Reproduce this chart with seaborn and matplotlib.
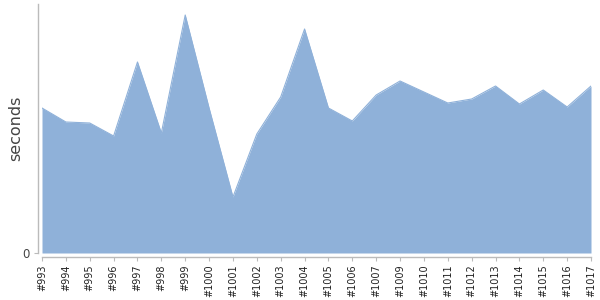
import matplotlib
matplotlib.use("Agg")
import matplotlib.pyplot as plt
import seaborn as sns
import pandas as pd

builds = ["#993", "#994", "#995", "#996", "#997", "#998", "#999", "#1000",
          "#1001", "#1002", "#1003", "#1004", "#1005", "#1006", "#1007",
          "#1009", "#1010", "#1011", "#1012", "#1013", "#1014", "#1015",
          "#1016", "#1017"]
seconds = [145, 131, 130, 117, 191, 120, 238, 145,
           56, 119, 156, 224, 145, 132, 158,
           172, 161, 150, 154, 167, 149, 163,
           146, 167]
y_max = 249

df = pd.DataFrame({"build": builds, "seconds": seconds})

sns.set_style("white")
plt.rcParams["font.family"] = ["DejaVu Sans"]

fig = plt.figure(figsize=(6, 3), dpi=100)
ax = fig.add_axes([42 / 600, 47 / 300, (591 - 42) / 600, (253 - 4) / 300])

fill_color = "#8fb1d9"
ax.fill_between(df["build"], df["seconds"], 0, color=fill_color, linewidth=0)
sns.lineplot(data=df, x="build", y="seconds", ax=ax, color=fill_color,
             linewidth=0.8, sort=False)

ax.set_xlim(0, len(builds) - 1)
ax.set_ylim(0, y_max)
ax.margins(0)

ax.set_yticks([0])
ax.set_yticklabels(["0"])
ax.set_xticks(range(len(builds)))
ax.set_xticklabels(builds)

ax.set_xlabel("")
ax.set_ylabel("seconds", fontsize=11.5, color="#444444", labelpad=-1)

for side in ["top", "right"]:
    ax.spines[side].set_visible(False)
for side in ["left", "bottom"]:
    ax.spines[side].set_color("#bbbbbb")
    ax.spines[side].set_linewidth(1)
ax.spines["left"].set_position(("outward", 3))
ax.spines["bottom"].set_position(("outward", 3))

ax.tick_params(axis="x", length=3, width=0.8, color="#bbbbbb", pad=2,
               bottom=True, labelrotation=90, labelsize=7, labelcolor="#222222")
ax.tick_params(axis="y", length=3, width=0.8, color="#bbbbbb", pad=3,
               left=True, labelsize=8.5, labelcolor="#444444")

fig.savefig("out.png", dpi=100)
